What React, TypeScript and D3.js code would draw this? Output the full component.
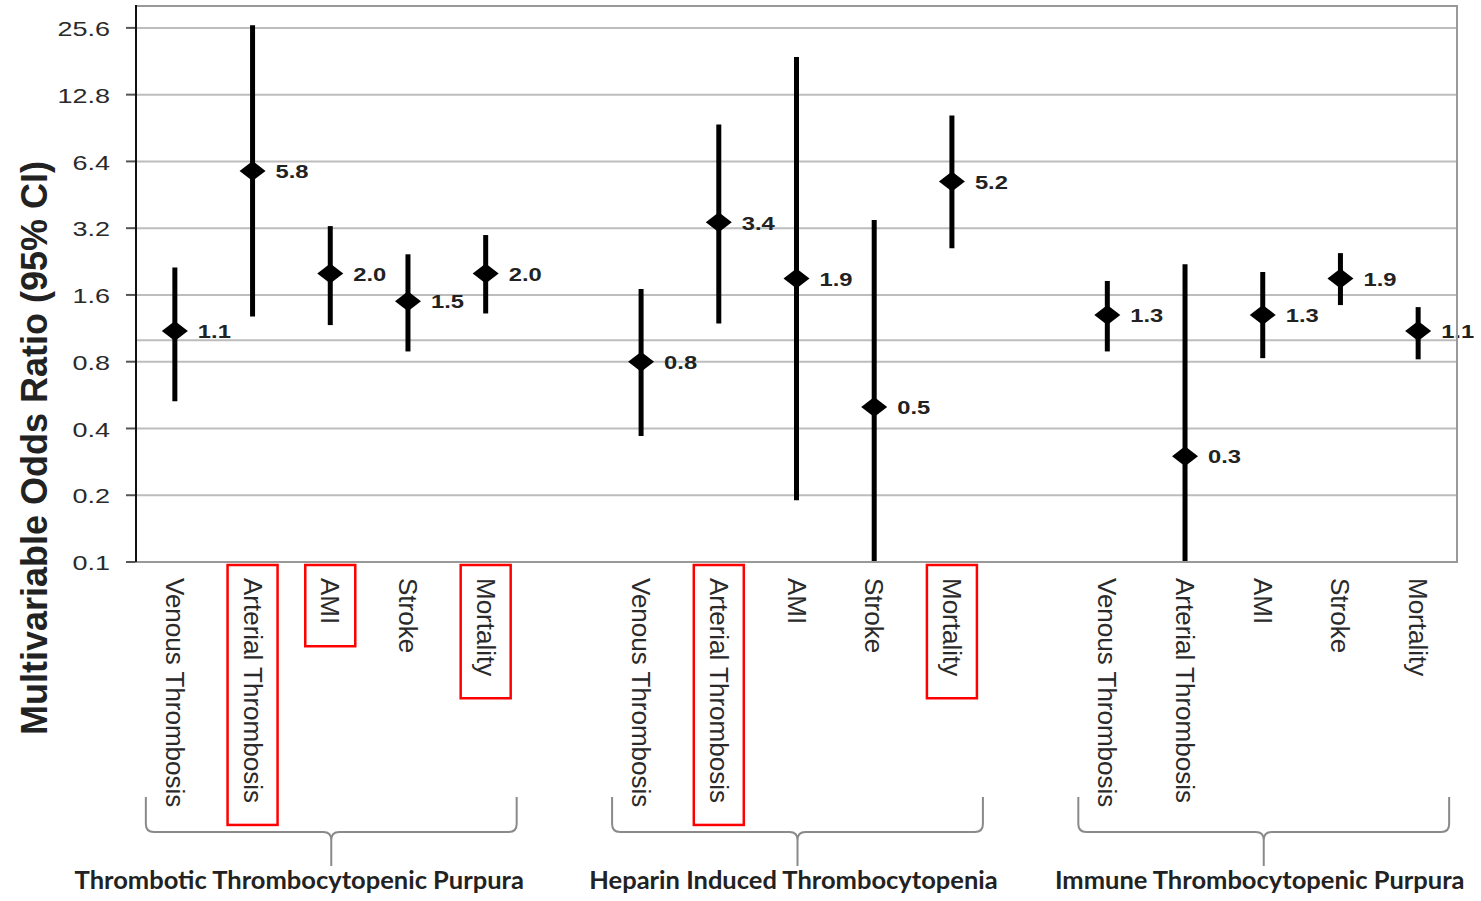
import { useEffect, useRef } from "react";
import * as d3 from "d3";

// three disorders, five outcomes each
const groups = [
  "Thrombotic Thrombocytopenic Purpura",
  "Heparin Induced Thrombocytopenia",
  "Immune Thrombocytopenic Purpura",
];
const outcomes = ["Venous Thrombosis", "Arterial Thrombosis", "AMI", "Stroke", "Mortality"];

// odds ratios with 95% CI
const ttpOR = [1.1, 5.8, 2.0, 1.5, 2.0];
const ttpLower = [0.53, 1.28, 1.17, 0.89, 1.32];
const ttpUpper = [2.13, 26.3, 3.27, 2.44, 2.98];

const hitOR = [0.8, 3.4, 1.9, 0.5, 5.2];
const hitLower = [0.37, 1.19, 0.19, 0.1, 2.6];
const hitUpper = [1.7, 9.4, 18.9, 3.48, 10.3];

const itpOR = [1.3, 0.3, 1.3, 1.9, 1.1];
const itpLower = [0.89, 0.1, 0.83, 1.44, 0.82];
const itpUpper = [1.85, 2.2, 2.03, 2.47, 1.41];

// outcomes boxed in red
const highlighted = [
  ["Arterial Thrombosis", "AMI", "Mortality"],
  ["Arterial Thrombosis", "Mortality"],
  [],
];

const yTicks = [0.1, 0.2, 0.4, 0.8, 1.6, 3.2, 6.4, 12.8, 25.6];
const referenceOR = 1.0;
const yMax = 31.8;

const groupLabelDx = [-32, -4, -4];

const App = () => {
  const svgRef = useRef<SVGSVGElement>(null);

  useEffect(() => {
    document.body.style.margin = "0";
    const svg = d3.select(svgRef.current);
    svg.selectAll("*").remove();

    const W = 1481;
    const H = 901;
    const left = 136, right = 1457, top = 7, bottom = 562;

    const series = [
      { or: ttpOR, lo: ttpLower, hi: ttpUpper },
      { or: hitOR, lo: hitLower, hi: hitUpper },
      { or: itpOR, lo: itpLower, hi: itpUpper },
    ];

    // slot keys, with an empty slot between groups
    const slots: string[] = [];
    groups.forEach((g, gi) => {
      if (gi > 0) slots.push(`gap${gi}`);
      outcomes.forEach((o) => slots.push(`${gi}|${o}`));
    });

    const x = d3.scaleBand().domain(slots).range([left, right]);
    const cx = (gi: number, o: string) => (x(`${gi}|${o}`) as number) + x.bandwidth() / 2;

    const y = d3.scaleLog().base(2).domain([0.1, yMax]).range([bottom, top]);

    svg.attr("width", W).attr("height", H);
    svg.append("rect").attr("width", W).attr("height", H).attr("fill", "#fff");

    // gridlines
    svg.append("g")
      .selectAll("line")
      .data([...yTicks.slice(1), referenceOR])
      .enter()
      .append("line")
      .attr("x1", left)
      .attr("x2", right)
      .attr("y1", (d) => y(d))
      .attr("y2", (d) => y(d))
      .attr("stroke", "#bdbdbd")
      .attr("stroke-width", 2);

    // tick marks + labels
    const ticks = svg.append("g");
    yTicks.forEach((t) => {
      ticks.append("line")
        .attr("x1", left - 10)
        .attr("x2", left)
        .attr("y1", y(t))
        .attr("y2", y(t))
        .attr("stroke", "#555")
        .attr("stroke-width", 2);
      ticks.append("text")
        .attr("transform", `translate(${left - 26},${y(t) + 1}) scale(1.35,1)`)
        .attr("text-anchor", "end")
        .attr("dominant-baseline", "central")
        .attr("font-family", "Arial, 'Liberation Sans', sans-serif")
        .attr("font-size", 20)
        .attr("fill", "#2a2a2a")
        .text(t.toFixed(1));
    });

    // y axis title
    svg.append("text")
      .attr("transform", `translate(34,448) rotate(-90)`)
      .attr("text-anchor", "middle")
      .attr("dominant-baseline", "central")
      .attr("font-family", "Arial, 'Liberation Sans', sans-serif")
      .attr("font-weight", "bold")
      .attr("font-size", 36)
      .attr("fill", "#222")
      .text("Multivariable Odds Ratio (95% CI)");

    // error bars, diamonds, value labels
    const marks = svg.append("g");
    series.forEach((s, gi) => {
      outcomes.forEach((o, i) => {
        const px = cx(gi, o);
        marks.append("line")
          .attr("x1", px)
          .attr("x2", px)
          .attr("y1", y(Math.max(s.lo[i], 0.1)))
          .attr("y2", y(Math.min(s.hi[i], yMax)))
          .attr("stroke", "#000")
          .attr("stroke-width", 5);
        const py = y(s.or[i]);
        const dw = 13, dh = 10;
        marks.append("path")
          .attr("d", `M${px - dw},${py}L${px},${py - dh}L${px + dw},${py}L${px},${py + dh}Z`)
          .attr("fill", "#000");
        marks.append("text")
          .attr("transform", `translate(${px + 23},${py + 1}) scale(1.25,1)`)
          .attr("dominant-baseline", "central")
          .attr("font-family", "Arial, 'Liberation Sans', sans-serif")
          .attr("font-weight", "bold")
          .attr("font-size", 19)
          .attr("fill", "#222")
          .text(s.or[i].toFixed(1));
      });
    });

    // frame
    svg.append("rect")
      .attr("x", left)
      .attr("y", top - 1)
      .attr("width", right - left)
      .attr("height", bottom - top + 1)
      .attr("fill", "none")
      .attr("stroke", "#999")
      .attr("stroke-width", 2);
    svg.append("line")
      .attr("x1", left)
      .attr("x2", left)
      .attr("y1", top - 2)
      .attr("y2", bottom)
      .attr("stroke", "#111")
      .attr("stroke-width", 2);

    // category labels + red boxes
    const labelTop = 578;
    const cats = svg.append("g");
    groups.forEach((g, gi) => {
      outcomes.forEach((o) => {
        const px = cx(gi, o);
        const t = cats.append("text")
          .attr("transform", `translate(${px},${labelTop}) rotate(90)`)
          .attr("dominant-baseline", "central")
          .attr("font-family", "Arial, 'Liberation Sans', sans-serif")
          .attr("font-size", 26)
          .attr("fill", "#2a2a2a")
          .text(o);
        if (highlighted[gi].includes(o)) {
          const len = (t.node() as SVGTextElement).getComputedTextLength();
          cats.append("rect")
            .attr("x", px - 25)
            .attr("y", labelTop - 13)
            .attr("width", 50)
            .attr("height", len + 35)
            .attr("fill", "none")
            .attr("stroke", "#f00")
            .attr("stroke-width", 2.5);
        }
      });
    });

    // brackets + group names
    const br = svg.append("g");
    groups.forEach((g, gi) => {
      const x0 = cx(gi, outcomes[0]) - 29;
      const x1 = cx(gi, outcomes[outcomes.length - 1]) + 31;
      const mid = (x0 + x1) / 2;
      const yTop = 797, yH = 832, yTip = 866, r = 8;
      br.append("path")
        .attr(
          "d",
          `M${x0},${yTop}L${x0},${yH - r}Q${x0},${yH} ${x0 + r},${yH}L${mid - r},${yH}Q${mid},${yH} ${mid},${yH + r}L${mid},${yTip}` +
            `M${mid},${yH + r}Q${mid},${yH} ${mid + r},${yH}L${x1 - r},${yH}Q${x1},${yH} ${x1},${yH - r}L${x1},${yTop}`
        )
        .attr("fill", "none")
        .attr("stroke", "#8a8a8a")
        .attr("stroke-width", 2);
      br.append("text")
        .attr("x", mid + groupLabelDx[gi])
        .attr("y", 889)
        .attr("text-anchor", "middle")
        .attr("font-family", "Lato, 'Open Sans', sans-serif")
        .attr("font-weight", "bold")
        .attr("font-size", 25.5)
        .attr("fill", "#222")
        .text(g);
    });
  }, []);

  return <svg ref={svgRef} style={{ display: "block" }}></svg>;
};

export default App;
